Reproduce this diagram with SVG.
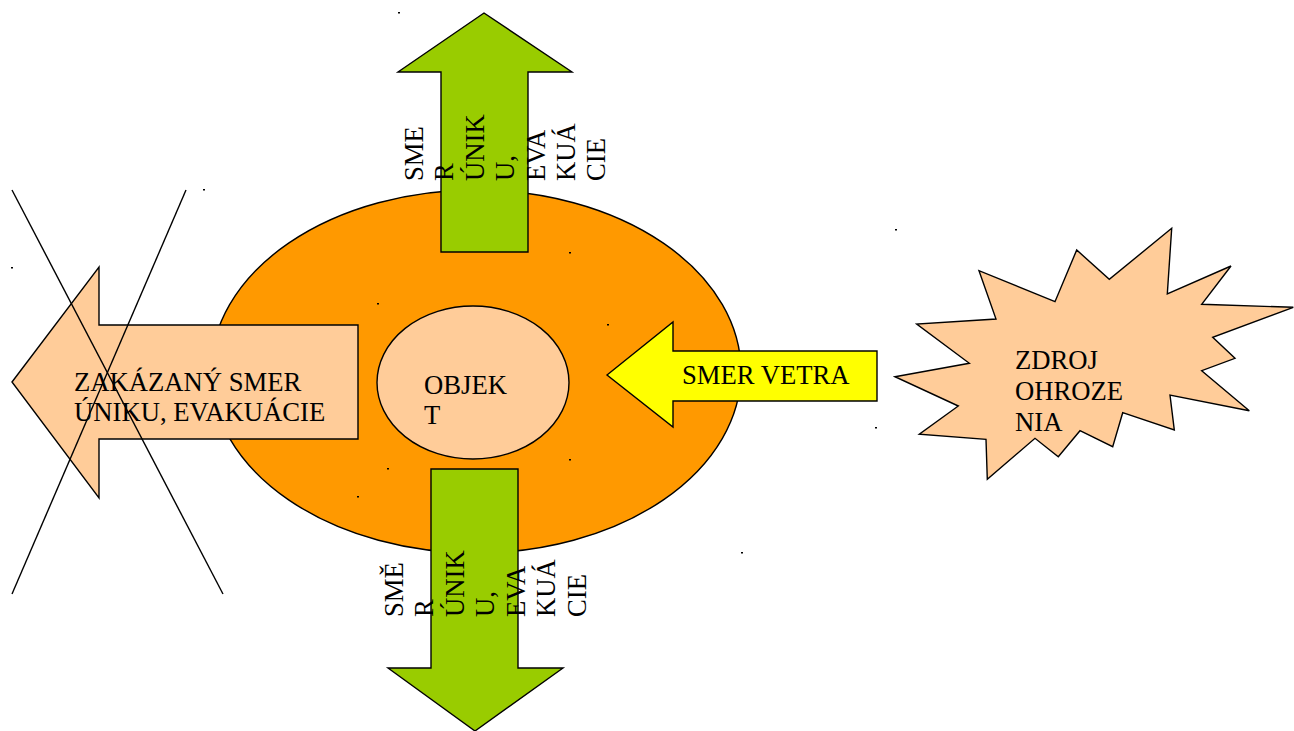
<svg xmlns="http://www.w3.org/2000/svg" width="1294" height="731" viewBox="0 0 1294 731">
<style>
.s{stroke:#000;stroke-width:1.4;stroke-linejoin:miter}
.t{font-family:"Liberation Serif","Times New Roman",serif;font-size:26.67px;fill:#000}
.d{fill:#000}
</style>
<rect width="1294" height="731" fill="#fff"/>
<g id="zone">
<ellipse class="s" cx="476" cy="371.5" rx="265" ry="181.5" fill="#FF9900"/>
</g>
<g id="escape-up">
<polygon class="s" fill="#99CC00" points="484,13 572,72 528,72 528,252 441,252 441,72 398,72"/>
<text class="t" transform="rotate(-90)"><tspan x="-181" y="423">SME</tspan><tspan x="-181" y="453">R</tspan><tspan x="-181" y="484">ÚNIK</tspan><tspan x="-181" y="514">U,</tspan><tspan x="-181" y="545">EVA</tspan><tspan x="-181" y="575">KUÁ</tspan><tspan x="-181" y="605">CIE</tspan></text>
</g>
<g id="escape-down">
<polygon class="s" fill="#99CC00" points="431,469 518,469 518,668 563,668 475,731 388,668 431,668"/>
<text class="t" transform="rotate(-90)"><tspan x="-617" y="403">SMĚ</tspan><tspan x="-617" y="433">R</tspan><tspan x="-617" y="464">ÚNIK</tspan><tspan x="-617" y="494">U,</tspan><tspan x="-617" y="525">EVA</tspan><tspan x="-617" y="555">KUÁ</tspan><tspan x="-617" y="586">CIE</tspan></text>
</g>
<g id="object">
<ellipse class="s" cx="473" cy="382.5" rx="96" ry="76.5" fill="#FFCC99"/>
<text class="t"><tspan x="424" y="394">OBJEK</tspan><tspan x="424" y="424">T</tspan></text>
</g>
<g id="forbidden">
<polygon class="s" fill="#FFCC99" points="12,382 99,267 99,325 358,325 358,439 99,439 99,498"/>
<text class="t"><tspan x="74" y="391">ZAKÁZANÝ SMER</tspan><tspan x="74" y="421">ÚNIKU, EVAKUÁCIE</tspan></text>
</g>
<g id="wind">
<polygon class="s" fill="#FFFF00" points="607,375 673,322 673,351 877,351 877,401 673,401 673,427"/>
<text class="t" x="682" y="384">SMER VETRA</text>
</g>
<g id="source">
<polygon class="s" fill="#FFCC99" points="895,376.7 969.3,363.3 916.7,324 996,319 979,270.7 1055,301.7 1076.7,250 1109.3,279.3 1171.7,228.3 1167.3,294 1231,266 1201.7,304.3 1293.3,307.3 1212.7,337.3 1235,358.3 1201.7,370.7 1249.3,410.7 1170,395 1174.3,430 1122.7,412.7 1112.7,446.7 1080,430.7 1058.3,456.7 1035,438.3 987.3,479.3 986,439.3 919.3,434.3 958.3,406"/>
<text class="t"><tspan x="1015" y="369">ZDROJ</tspan><tspan x="1015" y="400">OHROZE</tspan><tspan x="1015" y="431">NIA</tspan></text>
</g>
<g id="connectors">
<line class="s" x1="12" y1="190" x2="223" y2="594"/>
<line class="s" x1="186" y1="190" x2="12" y2="594"/>
</g>
<g id="marks">
<rect class="d" x="398" y="12" width="2" height="1.5"/>
<rect class="d" x="203" y="189" width="2" height="1.5"/>
<rect class="d" x="11" y="267" width="2" height="1.5"/>
<rect class="d" x="895" y="229" width="2" height="1.5"/>
<rect class="d" x="569" y="252" width="2" height="1.5"/>
<rect class="d" x="377" y="303" width="2" height="1.5"/>
<rect class="d" x="607" y="324" width="2" height="1.5"/>
<rect class="d" x="569" y="459" width="2" height="1.5"/>
<rect class="d" x="387" y="468" width="2" height="1.5"/>
<rect class="d" x="357" y="496" width="2" height="1.5"/>
<rect class="d" x="875" y="427" width="2" height="1.5"/>
<rect class="d" x="741" y="552" width="2" height="1.5"/>
</g>
</svg>
